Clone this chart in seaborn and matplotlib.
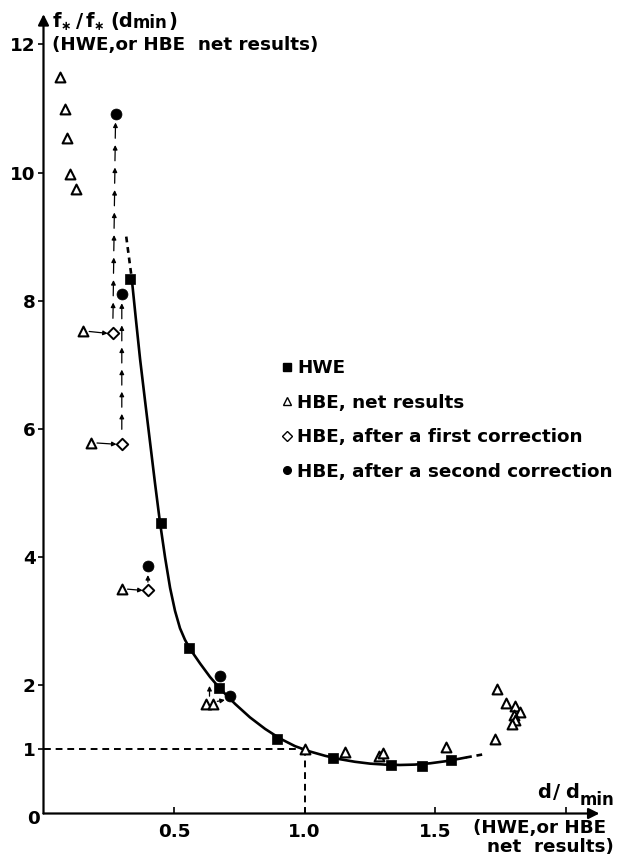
import numpy as np
import pandas as pd
import matplotlib
matplotlib.use("Agg")
import matplotlib.pyplot as plt
from matplotlib.lines import Line2D
import seaborn as sns

# ---- data -------------------------------------------------------------
# HWE results
hwe_x = [0.333, 0.452, 0.559, 0.674, 0.895, 1.111, 1.333, 1.452, 1.563]
hwe_y = [8.34, 4.53, 2.58, 1.96, 1.16, 0.87, 0.75, 0.74, 0.84]

# HBE, net results
net_x = [0.065, 0.084, 0.091, 0.103, 0.123, 0.153, 0.183, 0.300, 0.623, 0.651,
         1.000, 1.156, 1.285, 1.300, 1.543,
         1.737, 1.773, 1.805, 1.826, 1.802, 1.808, 1.796, 1.731]
net_y = [11.49, 10.99, 10.54, 9.97, 9.74, 7.52, 5.78, 3.50, 1.71, 1.71,
         1.00, 0.955, 0.90, 0.94, 1.03,
         1.95, 1.72, 1.67, 1.59, 1.54, 1.46, 1.40, 1.17]

# HBE, after a first correction
first_x = [0.266, 0.300, 0.400]
first_y = [7.49, 5.76, 3.48]

# HBE, after a second correction
second_x = [0.276, 0.300, 0.400, 0.678, 0.715]
second_y = [10.92, 8.10, 3.86, 2.15, 1.83]

# correction links: (net index -> first-correction index)
net_to_first = [(5, 0), (6, 1), (7, 2)]
# (first-correction index -> second-correction index)
first_to_second = [(0, 0), (1, 1), (2, 2)]
# (net index -> second-correction index)
net_to_second = [(8, 3), (9, 4)]

# fitted curve through the HWE results
curve_x = [0.338, 0.354, 0.370, 0.389, 0.408, 0.427, 0.446, 0.466, 0.485, 0.504,
           0.523, 0.542, 0.561, 0.600, 0.638, 0.676, 0.734, 0.791, 0.849, 0.906,
           0.964, 1.021, 1.079, 1.136, 1.193, 1.251, 1.308, 1.366, 1.423, 1.481,
           1.538, 1.596, 1.619]
curve_y = [8.35, 7.71, 7.09, 6.44, 5.80, 5.16, 4.55, 3.99, 3.52, 3.16,
           2.89, 2.71, 2.57, 2.34, 2.13, 1.95, 1.71, 1.50, 1.32, 1.17,
           1.05, 0.967, 0.900, 0.847, 0.807, 0.778, 0.763, 0.757, 0.763, 0.783,
           0.814, 0.856, 0.874]
# extrapolated ends of the curve
curve_top_x = [0.317, 0.338]
curve_top_y = [9.00, 8.35]
curve_end_x = [1.619, 1.692]
curve_end_y = [0.874, 0.928]

x_ticks = [0.5, 1.0, 1.5, 2.0]
x_ticklabels = ["0.5", "1.0", "1.5", ""]
y_ticks = [1, 2, 4, 6, 8, 10, 12]
y_ticklabels = ["1", "2", "4", "6", "8", "10", "12"]

# ---- style ------------------------------------------------------------
sns.set_style("white")
FONT = "DejaVu Sans"
plt.rcParams["font.family"] = [FONT]
plt.rcParams["font.weight"] = "bold"
plt.rcParams["text.color"] = "black"
plt.rcParams["xtick.color"] = "black"
plt.rcParams["ytick.color"] = "black"
plt.rcParams["xtick.labelcolor"] = "black"
plt.rcParams["ytick.labelcolor"] = "black"
FS = 13.2

W, H = 639, 857
fig = plt.figure(figsize=(W / 100, H / 100), dpi=100)
X0, Y0 = 43.5, 813.5       # pixel position of the origin
SX, SY = 261.0, 64.1       # pixels per unit
XMAX, YMAX = 2.25, 12.6
ax = fig.add_axes([X0 / W, (H - Y0) / H, XMAX * SX / W, YMAX * SY / H])
ax.set_xlim(0, XMAX)
ax.set_ylim(0, YMAX)
for s in ax.spines.values():
    s.set_visible(False)

def px(x, y):
    return (x / W, 1 - y / H)

def label(x, y, s, size=FS, va="baseline", ha="left"):
    fig.text(*px(x, y), s, ha=ha, va=va, fontsize=size, fontweight="bold",
             color="black")

# axes drawn as arrows
ax.annotate("", xy=(2.13, 0), xytext=(0, 0), xycoords="data",
            arrowprops=dict(arrowstyle="-|>", lw=1.6, color="k",
                            mutation_scale=16, shrinkA=0, shrinkB=0),
            annotation_clip=False, zorder=5)
ax.annotate("", xy=(0, 12.47), xytext=(0, 0), xycoords="data",
            arrowprops=dict(arrowstyle="-|>", lw=1.6, color="k",
                            mutation_scale=16, shrinkA=0, shrinkB=0),
            annotation_clip=False, zorder=5)

# ticks
ax.set_xticks(x_ticks)
ax.set_xticklabels(x_ticklabels, fontsize=FS, fontweight="bold")
ax.set_yticks(y_ticks)
ax.set_yticklabels(y_ticklabels, fontsize=FS, fontweight="bold")
ax.tick_params(axis="x", direction="in", length=5, width=1.2, pad=7, bottom=True,
               colors="black")
ax.tick_params(axis="y", direction="out", length=4, width=1.2, pad=1.5, left=True,
               colors="black")
label(33, 818.5, "0", va="center", ha="center")

# reference lines at d = d_min and f = f(d_min)
dash = (0, (3.5, 2.5))
ax.plot([0, 1.0], [1.0, 1.0], color="k", lw=1.4, ls=dash, zorder=1)
ax.plot([1.0, 1.0], [0, 1.0], color="k", lw=1.4, ls=dash, zorder=1)

# fitted curve
sns.lineplot(x=curve_x, y=curve_y, sort=False, color="k", lw=1.9, ax=ax, zorder=2)
sns.lineplot(x=curve_top_x, y=curve_top_y, sort=False, color="k", lw=1.9,
             ls=(0, (2.2, 1.8)), ax=ax, zorder=2)
sns.lineplot(x=curve_end_x, y=curve_end_y, sort=False, color="k", lw=1.9,
             ls=(0, (2.2, 1.8)), ax=ax, zorder=2)

# correction arrows
arrow_kw = dict(arrowstyle="-|>", lw=0.9, color="k", mutation_scale=6.5,
                shrinkA=0, shrinkB=0)

def arrow(x0, y0, x1, y1):
    ax.annotate("", xy=(x1, y1), xytext=(x0, y0), arrowprops=arrow_kw, zorder=3)

for i, j in net_to_first:
    arrow(net_x[i] + 0.022, net_y[i], first_x[j] - 0.02, first_y[j])

for i, j in first_to_second:
    xa, ya, xb, yb = first_x[i], first_y[i] + 0.13, second_x[j], second_y[j] - 0.14
    n = max(1, int(round((yb - ya) / 0.37)))
    ys = np.linspace(ya, yb, n + 1)
    xs = np.linspace(xa, xb, n + 1)
    for k in range(n):
        seg = ys[k + 1] - ys[k]
        arrow(xs[k], ys[k] + (0.3 * seg if n > 1 else 0), xs[k + 1], ys[k + 1])

# direct links from net results to the second correction
i, j = net_to_second[0]
arrow(net_x[i] + 0.013, net_y[i] + 0.12, net_x[i] + 0.013, net_y[i] + 0.28)
i, j = net_to_second[1]
arrow(net_x[i] + 0.015, net_y[i] + 0.04, second_x[j] - 0.02, second_y[j] - 0.06)

# markers
sns.scatterplot(x=hwe_x, y=hwe_y, marker="s", s=48, color="k", edgecolor="k",
                linewidth=0.5, ax=ax, zorder=6)
sns.scatterplot(x=net_x, y=net_y, marker="^", s=50, facecolor="white",
                edgecolor="k", linewidth=1.5, ax=ax, zorder=6)
sns.scatterplot(x=first_x, y=first_y, marker="D", s=34, facecolor="white",
                edgecolor="k", linewidth=1.4, ax=ax, zorder=6)
sns.scatterplot(x=second_x, y=second_y, marker="o", s=62, color="k",
                edgecolor="k", linewidth=0.5, ax=ax, zorder=6)

# legend
handles = [
    Line2D([], [], ls="none", marker="s", ms=5.5, mfc="k", mec="k"),
    Line2D([], [], ls="none", marker="^", ms=6, mfc="white", mec="k", mew=1.0),
    Line2D([], [], ls="none", marker="D", ms=5, mfc="white", mec="k", mew=1.0),
    Line2D([], [], ls="none", marker="o", ms=5.5, mfc="k", mec="k"),
]
labels = ["HWE", "HBE, net results", "HBE, after a first correction",
          "HBE, after a second correction"]
leg = ax.legend(handles, labels, loc="upper left", bbox_to_anchor=px(281.5, 359),
                bbox_transform=fig.transFigure, frameon=False, handlelength=0.6,
                handletextpad=0.25, labelspacing=0.905, borderpad=0,
                borderaxespad=0,
                prop={"family": FONT, "weight": "bold", "size": FS})
for t in leg.get_texts():
    t.set_color("black")

# ordinate title: f* / f* (d min)
label(53, 27, "f", size=14)
label(61, 30, "\u2217", size=9)
label(76, 27, "/", size=14)
label(86, 27, "f", size=14)
label(94, 30, "\u2217", size=9)
label(110, 27, "(d", size=14)
label(133, 28.5, "min", size=12)
label(168, 27, ")", size=14)
label(52, 45, "(HWE,or HBE  net results)", va="center")

# abscissa title: d / d min
label(537, 798, "d", size=14)
label(553, 798, "/", size=14)
label(565, 798, "d", size=14)
label(580, 805, "min", size=12)
label(540, 828.5, "(HWE,or HBE", va="center", ha="center")
label(550, 847.5, "net  results)", va="center", ha="center")

fig.savefig("out.png", dpi=100)
